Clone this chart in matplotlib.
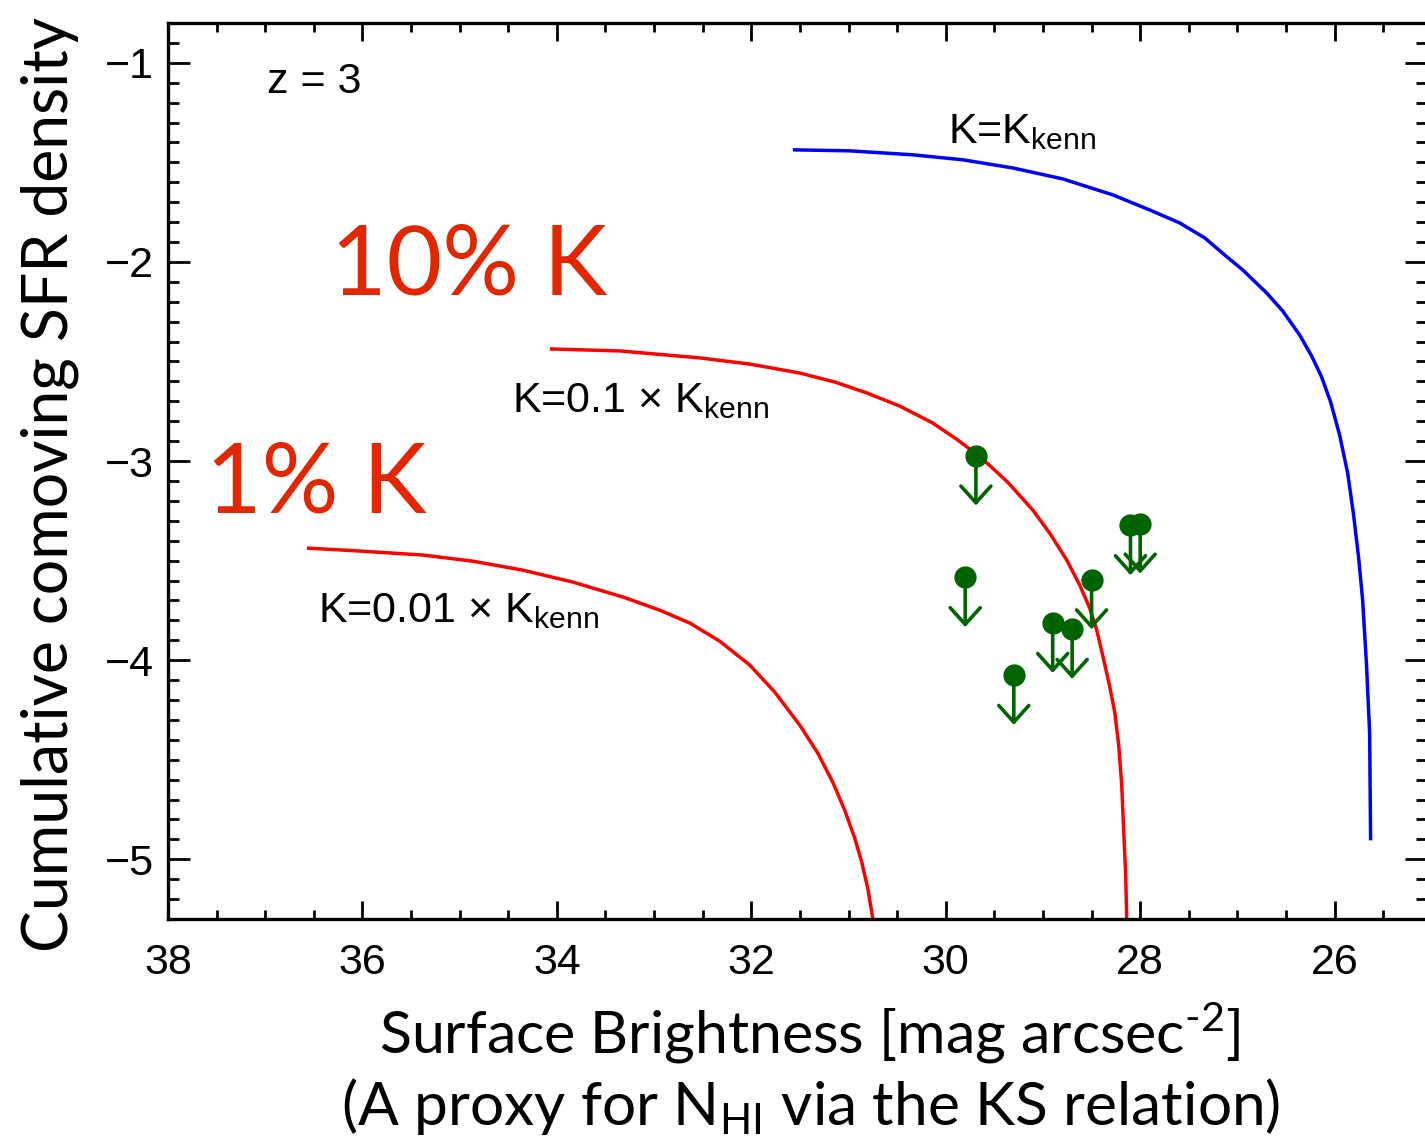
import matplotlib
matplotlib.use("Agg")
import matplotlib.pyplot as plt
from matplotlib.ticker import MultipleLocator

# Cumulative SFR density vs. surface brightness limit, z = 3
sb_kenn = [31.573, 30.987, 30.339, 29.825, 29.311, 28.797, 28.283, 27.902,
           27.594, 27.337, 27.131, 26.946, 26.699, 26.535, 26.360, 26.237,
           26.134, 26.041, 25.949, 25.866, 25.805, 25.753, 25.712, 25.671,
           25.640, 25.630]
sfr_kenn = [-1.437, -1.442, -1.462, -1.487, -1.528, -1.583, -1.663, -1.739,
            -1.804, -1.879, -1.965, -2.040, -2.156, -2.246, -2.367, -2.472,
            -2.578, -2.704, -2.869, -3.060, -3.271, -3.487, -3.698, -4.035,
            -4.367, -4.905]

sb_k10 = [34.072, 33.352, 32.530, 32.015, 31.501, 31.141, 30.812, 30.473,
          30.134, 29.877, 29.620, 29.363, 29.105, 28.931, 28.756, 28.622,
          28.519, 28.447, 28.386, 28.314, 28.262, 28.221, 28.190, 28.170,
          28.149, 28.139]
sfr_k10 = [-2.437, -2.447, -2.482, -2.513, -2.558, -2.603, -2.658, -2.724,
           -2.809, -2.894, -2.990, -3.106, -3.246, -3.362, -3.497, -3.623,
           -3.739, -3.849, -3.975, -4.131, -4.261, -4.427, -4.628, -4.854,
           -5.080, -5.296]

sb_k01 = [36.571, 36.026, 35.378, 34.864, 34.350, 33.835, 33.321, 32.941,
          32.632, 32.324, 32.015, 31.758, 31.501, 31.316, 31.162, 31.039,
          30.936, 30.864, 30.802, 30.751]
sfr_k01 = [-3.437, -3.452, -3.472, -3.503, -3.548, -3.608, -3.683, -3.749,
           -3.814, -3.905, -4.025, -4.161, -4.327, -4.467, -4.613, -4.754,
           -4.894, -5.015, -5.146, -5.296]

# upper limits
lim_sb = [29.69, 29.80, 29.30, 28.90, 28.70, 28.50, 28.10, 28.00]
lim_sfr = [-2.973, -3.584, -4.075, -3.814, -3.844, -3.595, -3.323, -3.315]
arrow_len = 0.25

x_ticks = [38, 36, 34, 32, 30, 28, 26]
y_ticks = [-1, -2, -3, -4, -5]

W, H = 1425, 1142
fig = plt.figure(figsize=(W / 100, H / 100), dpi=100)
ax = fig.add_axes([168 / W, 223 / H, (1427 - 168) / W, (919 - 23) / H])

tick_font = "Liberation Sans"
title_font = "Lato"
green = "#006400"
red = "#ff0000"
label_red = "#e12600"

ax.plot(sb_kenn, sfr_kenn, color="#0000ff", lw=2.5, solid_capstyle="butt")
ax.plot(sb_k10, sfr_k10, color=red, lw=2.5, solid_capstyle="butt")
ax.plot(sb_k01, sfr_k01, color=red, lw=2.5, solid_capstyle="butt")

for x, y in zip(lim_sb, lim_sfr):
    ax.annotate("", xy=(x, y - arrow_len), xytext=(x, y),
                arrowprops=dict(arrowstyle="->,head_length=0.5,head_width=0.45",
                                color=green, lw=2.6, shrinkA=0, shrinkB=0,
                                mutation_scale=24))
ax.plot(lim_sb, lim_sfr, "o", color=green, ms=15, zorder=5)

ax.set_xlim(38, 25.05)
ax.set_ylim(-5.3, -0.8)
ax.set_xticks(x_ticks)
ax.set_yticks(y_ticks)
ax.xaxis.set_minor_locator(MultipleLocator(0.5))
ax.yaxis.set_minor_locator(MultipleLocator(0.1))
ax.tick_params(which="both", direction="in", top=True, right=True, width=2,
               labelsize=31)
ax.tick_params(axis="x", which="major", length=13, pad=17)
ax.tick_params(axis="x", which="minor", length=6.5)
ax.tick_params(axis="y", which="major", length=16, pad=10)
ax.tick_params(axis="y", which="minor", length=8)
for lab in ax.get_xticklabels() + ax.get_yticklabels():
    lab.set_fontfamily(tick_font)
for sp in ax.spines.values():
    sp.set_linewidth(2.4)

txt = dict(fontfamily=tick_font, fontsize=31, color="black", va="baseline")
ax.text(36.98, -1.15, "z = 3", **txt)
ax.text(29.98, -1.402, r"K=K$_{\mathdefault{kenn}}$", **txt)
ax.text(34.46, -2.754, r"K=0.1 × K$_{\mathdefault{kenn}}$", **txt)
ax.text(36.46, -3.809, r"K=0.01 × K$_{\mathdefault{kenn}}$", **txt)

big = dict(fontfamily=title_font, fontsize=69, color=label_red, va="baseline")
ax.text(36.32, -2.166, "10% K", **big)
ax.text(37.61, -3.256, "1% K", **big)

fig.text(50 / W, 1 - 485 / H, "Cumulative comoving SFR density",
         rotation=90, ha="center", va="center", fontfamily=title_font,
         fontsize=45)
fig.text(810 / W, 1 - 1053 / H,
         r"Surface Brightness [mag arcsec$^{\mathdefault{‐2}}$]",
         ha="center", va="baseline", fontfamily=title_font, fontsize=42.5)
fig.text(811 / W, 1 - 1125 / H,
         r"(A proxy for N$_{\mathdefault{HI}}$ via the KS relation)",
         ha="center", va="baseline", fontfamily=title_font, fontsize=43.5)

fig.savefig("out.png", dpi=100)
